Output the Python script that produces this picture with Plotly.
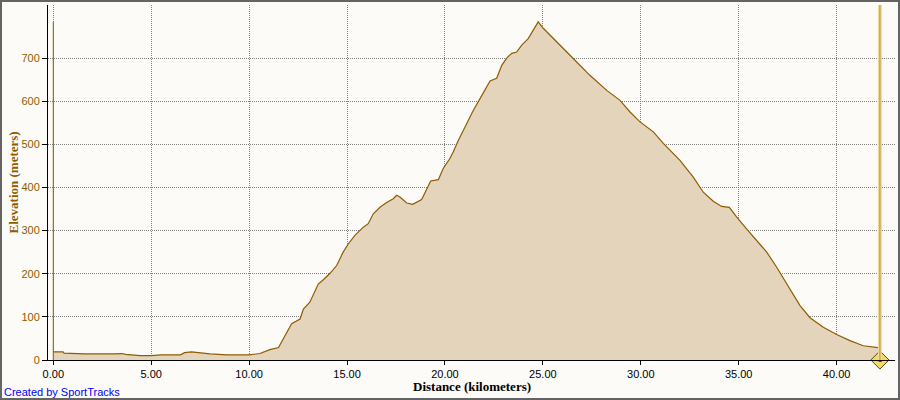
import plotly.graph_objects as go

distance_km = [0.0, 0.5, 0.55, 1.6, 3.15, 3.5, 3.7, 4.0, 4.43, 5.0, 5.5, 6.5, 6.7, 7.06,
               7.5, 8.0, 8.85, 9.5, 10.0, 10.55, 11.06, 11.5, 11.83, 12.17, 12.6, 12.77,
               13.1, 13.53, 13.79, 14.13, 14.47, 14.8, 15.06, 15.4, 15.83, 16.08, 16.34,
               16.68, 17.02, 17.36, 17.53, 17.7, 18.05, 18.35, 18.81, 18.98, 19.27, 19.66,
               19.91, 20.25, 20.42, 20.68, 21.02, 21.45, 21.79, 22.13, 22.3, 22.64, 22.9,
               23.15, 23.41, 23.66, 23.92, 24.25, 24.51, 24.76, 25.02, 25.36, 25.87, 26.55,
               27.4, 28.26, 28.94, 29.45, 29.96, 30.64, 31.15, 32.0, 32.68, 33.19, 33.7,
               34.13, 34.52, 34.9, 35.4, 35.92, 36.43, 36.94, 37.45, 38.13, 38.64, 39.32,
               40.0, 40.68, 41.36, 42.21]
elevation_m = [19, 19, 16, 14, 14, 15, 13, 12, 10, 10, 12, 12, 17, 19,
               16, 14, 12, 12, 12, 15, 24, 29, 56, 84, 95, 118,
               134, 176, 186, 201, 219, 250, 269, 289, 308, 316, 339,
               354, 365, 374, 382, 378, 364, 361, 372, 389, 415, 418,
               444, 467, 482, 509, 540, 579, 606, 633, 647, 653, 683,
               700, 711, 714, 730, 745, 765, 784, 769, 753, 730, 699,
               660, 625, 602, 575, 552, 529, 502, 463, 424, 389, 368,
               356, 354, 331, 304, 277, 250, 215, 176, 126, 98, 76,
               59, 45, 33, 28]

x_ticks = [0, 5, 10, 15, 20, 25, 30, 35, 40]
x_tick_labels = ["0.00", "5.00", "10.00", "15.00", "20.00", "25.00", "30.00", "35.00", "40.00"]
y_ticks = [0, 100, 200, 300, 400, 500, 600, 700]

marker_km = 42.21
marker_label = "1"

BROWN = "#8F5C00"
FILL = "#E4D4BC"
BG = "#FCFBF7"
GRID = "#808080"

W, H = 900, 400
ML, MR, MT, MB = 48, 5, 5, 40
PW, PH = W - ML - MR, H - MT - MB

def px_x(p):
    return (p - ML) / PW

def px_y(p):
    return (H - MB - p) / PH

fig = go.Figure()

fig.add_trace(go.Scatter(
    x=distance_km, y=elevation_m, mode="lines",
    line=dict(color=BROWN, width=1.2),
    fill="tozeroy", fillcolor=FILL, hoverinfo="skip", showlegend=False,
))

# start marker line (brown) from 0 to max elevation at x=0
fig.add_shape(type="line", xref="x", yref="y", x0=distance_km[0], x1=distance_km[0],
              y0=0, y1=max(elevation_m), line=dict(color=BROWN, width=1))

# end marker vertical line
fig.add_shape(type="line", xref="x", yref="paper", x0=marker_km, x1=marker_km, y0=0, y1=1,
              line=dict(color="#F2DC96", width=4))
fig.add_shape(type="line", xref="x", yref="paper", x0=marker_km, x1=marker_km, y0=0, y1=1,
              line=dict(color="#B08A38", width=1))

fig.add_trace(go.Scatter(
    x=[marker_km], y=[0], mode="markers+text",
    marker=dict(symbol="diamond", size=14, color="#F6D86A", line=dict(color="#5A4A10", width=1)),
    text=[marker_label], textposition="middle center",
    textfont=dict(family="Liberation Sans, Arial", size=8, color="#000000"),
    cliponaxis=False, hoverinfo="skip", showlegend=False,
))

# outer frame
fig.add_shape(type="rect", xref="paper", yref="paper",
              x0=px_x(1), x1=px_x(899), y0=px_y(399), y1=px_y(1),
              line=dict(color="#646464", width=2), layer="above")

fig.add_annotation(text="<b>Elevation (meters)</b>", xref="paper", yref="paper",
                   x=px_x(13), y=0.5, textangle=-90, showarrow=False,
                   xanchor="center", yanchor="middle",
                   font=dict(family="Liberation Serif, Times New Roman", size=13, color=BROWN))
fig.add_annotation(text="<b>Distance (kilometers)</b>", xref="paper", yref="paper",
                   x=0.5, y=px_y(387), showarrow=False, xanchor="center", yanchor="middle",
                   font=dict(family="Liberation Serif, Times New Roman", size=13, color="#000000"))
fig.add_annotation(text="Created by SportTracks", xref="paper", yref="paper",
                   x=px_x(2), y=px_y(392), showarrow=False, xanchor="left", yanchor="middle",
                   font=dict(family="Liberation Sans, Arial", size=11, color="#0000FF"))

fig.update_layout(
    width=W, height=H, margin=dict(l=ML, r=MR, t=MT, b=MB),
    paper_bgcolor=BG, plot_bgcolor=BG, showlegend=False,
    xaxis=dict(range=[-0.27, 42.98], tickvals=x_ticks, ticktext=x_tick_labels,
               showgrid=True, gridcolor=GRID, griddash="1px,1px", gridwidth=1,
               zeroline=False, showline=True, linecolor="#000000", linewidth=1,
               ticks="outside", ticklen=4, tickcolor="#000000",
               tickfont=dict(family="Liberation Sans, Arial", size=11, color="#000000")),
    yaxis=dict(range=[0, 823], tickvals=y_ticks,
               showgrid=True, gridcolor=GRID, griddash="1px,1px", gridwidth=1,
               zeroline=False, showline=True, linecolor="#000000", linewidth=1,
               ticks="outside", ticklen=5, tickcolor="#000000",
               tickfont=dict(family="Liberation Sans, Arial", size=11, color=BROWN)),
)

fig.write_html("out.html", config={"displayModeBar": False},
               post_script="document.body.style.margin='0';document.body.style.padding='0';document.documentElement.style.background='" + BG + "';")
